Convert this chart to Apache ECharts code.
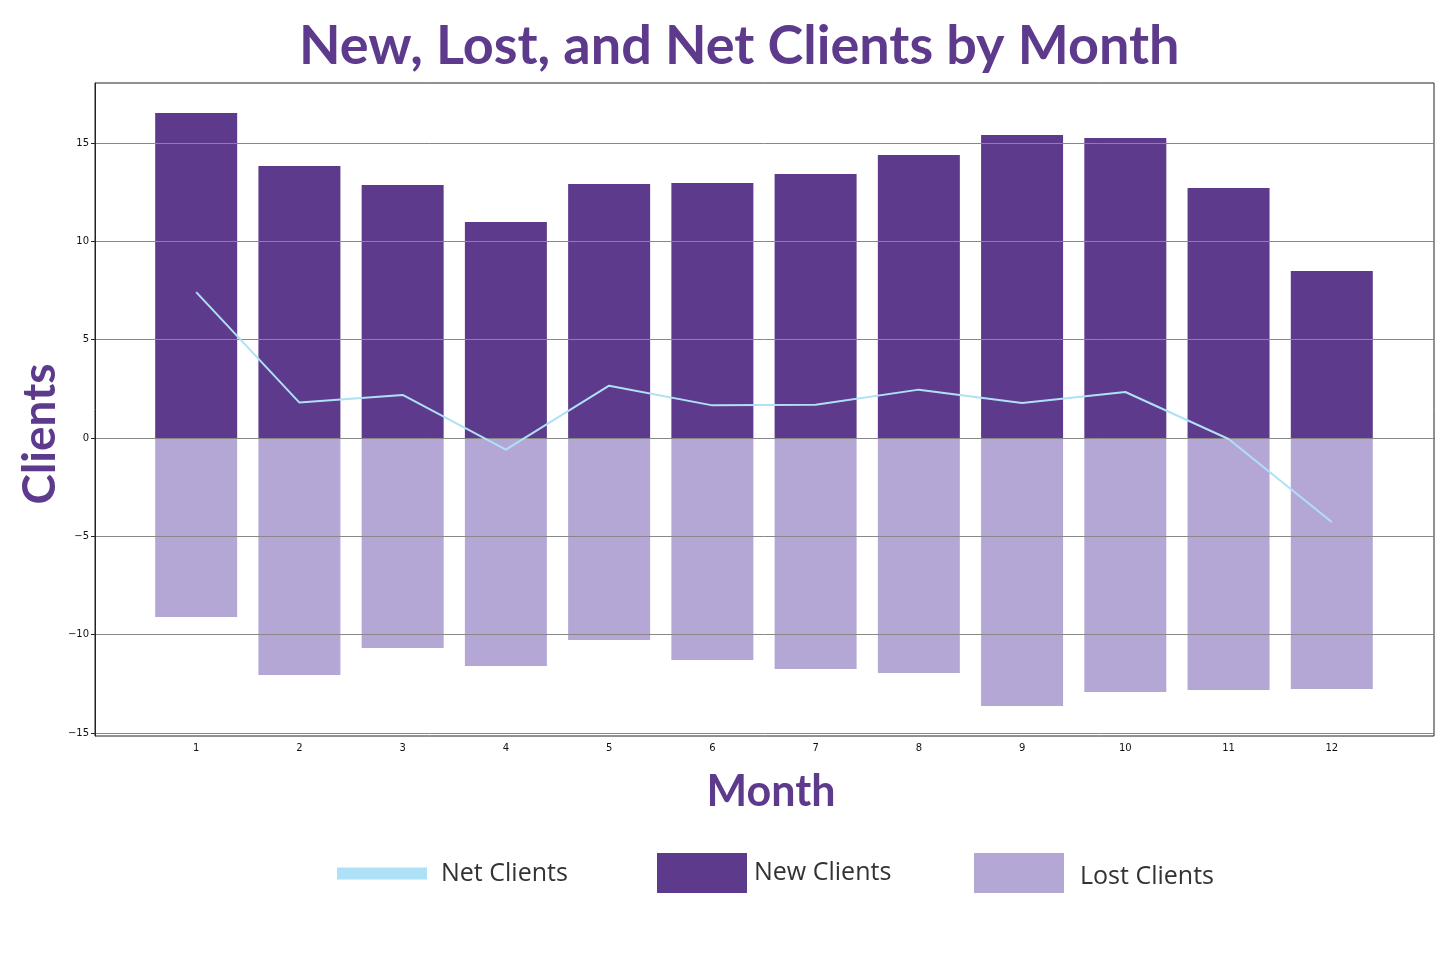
<!DOCTYPE html>
<html>
<head>
<meta charset="utf-8">
<script src="https://cdn.jsdelivr.net/npm/echarts@6/dist/echarts.min.js"></script>
<style>html,body{margin:0;padding:0;background:#fff}#chart{width:1456px;height:957px}</style>
</head>
<body>
<div id="chart"></div>
<script>
const months = [1, 2, 3, 4, 5, 6, 7, 8, 9, 10, 11, 12];
const newClients = [16.52, 13.83, 12.86, 10.98, 12.91, 12.96, 13.42, 14.39, 15.40, 15.25, 12.71, 8.49];
const lostClients = [-9.10, -12.05, -10.68, -11.59, -10.27, -11.29, -11.74, -11.95, -13.62, -12.91, -12.81, -12.76];
const netClients = [7.42, 1.80, 2.19, -0.59, 2.66, 1.66, 1.69, 2.46, 1.78, 2.34, -0.05, -4.27];
const yTicks = [-15, -10, -5, 0, 5, 10, 15];

const purple = '#5e3a8c';
const lavender = '#b4a7d6';
const skyBlue = '#aee0f7';
const labelFont = 'Lato';
const textFont = 'Open Sans';

const pairs = arr => months.map((m, i) => [m, arr[i]]);

const chart = echarts.init(document.getElementById('chart'), null, {renderer: 'canvas'});
chart.setOption({
  animation: false,
  backgroundColor: '#fff',
  title: {
    text: 'New, Lost, and Net Clients by Month',
    left: 294,
    top: 15,
    textStyle: {fontFamily: labelFont, fontWeight: 'bold', fontSize: 54, color: purple}
  },
  graphic: [
    {type: 'text', x: 40, y: 434, rotation: Math.PI / 2,
     style: {text: 'Clients', align: 'center', verticalAlign: 'middle',
       font: 'bold 46px ' + labelFont, fill: purple}},
    {type: 'text', x: 771, y: 792,
     style: {text: 'Month', align: 'center', verticalAlign: 'middle',
       font: 'bold 43px ' + labelFont, fill: purple}}
  ],
  grid: {left: 95, right: 22, top: 83, bottom: 221, show: true, borderColor: '#222', borderWidth: 1, containLabel: false},
  xAxis: {
    type: 'value', min: 0.02, max: 12.99,
    axisLine: {show: true, lineStyle: {color: '#222', width: 1}},
    axisTick: {show: true, length: 4, lineStyle: {color: '#222'}, customValues: months},
    axisLabel: {fontFamily: 'DejaVu Sans', fontSize: 10, color: '#111', margin: 7,
      customValues: months, formatter: v => String(v)},
    splitLine: {show: false}
  },
  yAxis: {
    type: 'value', min: -15.15, max: 18.05,
    z: 3,
    axisLine: {show: true, lineStyle: {color: '#222', width: 1}},
    axisTick: {show: true, length: 4, lineStyle: {color: '#222'}, customValues: yTicks},
    axisLabel: {fontFamily: 'DejaVu Sans', fontSize: 10, color: '#111', margin: 6,
      customValues: yTicks,
      formatter: v => v < 0 ? '\u2212' + (-v) : String(v)},
    splitLine: {show: true, lineStyle: {color: '#888', width: 1}}
  },
  legend: [
    {data: [{name: 'Net Clients', icon: 'rect'}], left: 332, top: 856, itemWidth: 90, itemHeight: 12, itemGap: 0,
     textStyle: {fontFamily: textFont, fontSize: 25, color: '#333', padding: [0, 0, 4, 9]}},
    {data: [{name: 'New Clients', icon: 'rect'}], left: 652, top: 848, itemWidth: 90, itemHeight: 40, itemGap: 0,
     textStyle: {fontFamily: textFont, fontSize: 25, color: '#333', padding: [0, 0, 0, 2]}},
    {data: [{name: 'Lost Clients', icon: 'rect'}], left: 969, top: 848, itemWidth: 90, itemHeight: 40, itemGap: 0,
     formatter: name => '{a|' + name + '}',
     textStyle: {fontFamily: textFont, fontSize: 25, color: '#333', padding: [0, 0, 0, 11],
       rich: {a: {fontFamily: textFont, fontSize: 25, color: '#333', padding: [8, 0, 0, 0]}}}}
  ],
  series: [
    {name: 'New Clients', type: 'bar', data: pairs(newClients), barWidth: 82, barGap: '-100%',
     itemStyle: {color: purple}, z: 2},
    {name: 'Lost Clients', type: 'bar', data: pairs(lostClients), barWidth: 82, barGap: '-100%',
     itemStyle: {color: lavender}, z: 2},
    {name: 'Net Clients', type: 'line', data: pairs(netClients), symbol: 'none', z: 5,
     lineStyle: {color: skyBlue, width: 2}, itemStyle: {color: skyBlue}}
  ]
});
</script>
</body>
</html>
